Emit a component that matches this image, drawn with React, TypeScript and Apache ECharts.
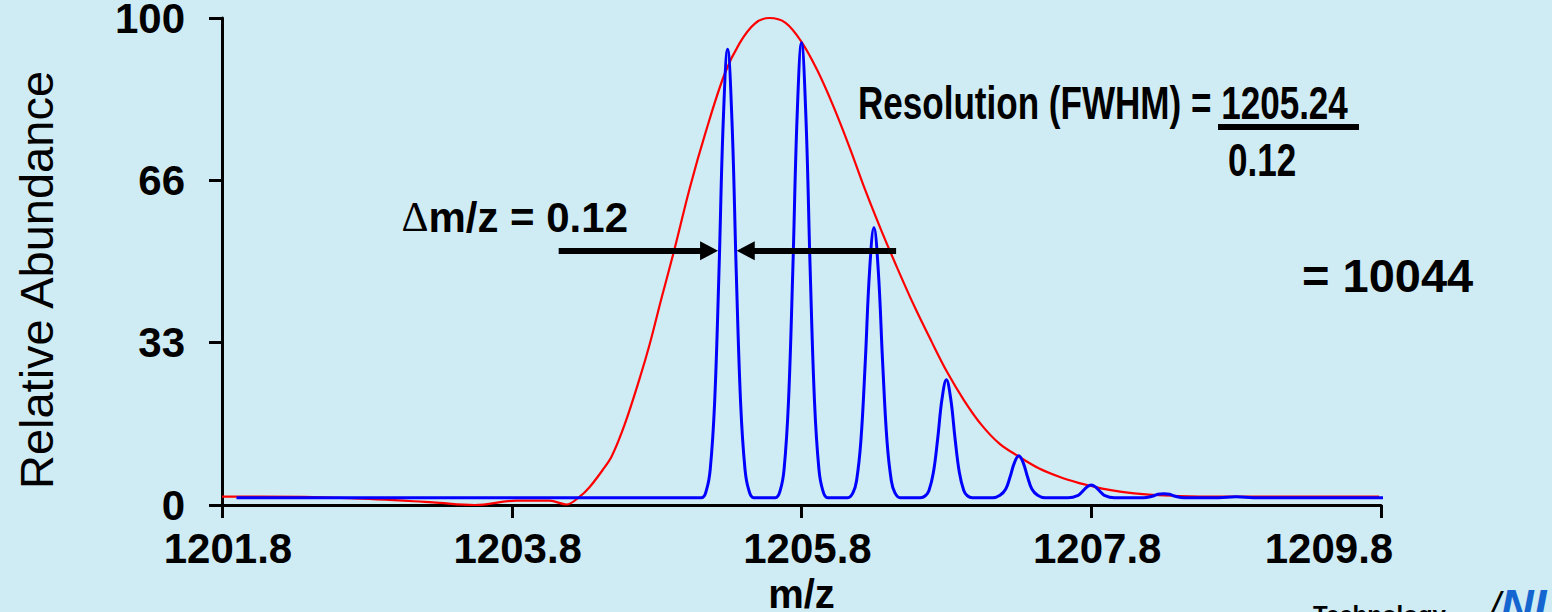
import React, { useEffect, useRef } from "react";
import * as echarts from "echarts";

const BG = "#CFEBF4";
const FONT = "'Liberation Sans', Arial, Helvetica, sans-serif";

// x-axis tick values (m/z) and y-axis tick values (relative abundance)
const xTicks = [1201.8, 1203.8, 1205.8, 1207.8, 1209.8];
const yTicks = [0, 33.333, 66.667, 100];

// Blue trace: resolved isotope peaks (m/z, abundance)
const blueMz = [
  1201.9, 1203.8,
  1205.11, 1205.145, 1205.17, 1205.2, 1205.23, 1205.26, 1205.29, 1205.32, 1205.35, 1205.38, 1205.41, 1205.435, 1205.47,
  1205.62, 1205.655, 1205.68, 1205.71, 1205.74, 1205.77, 1205.8, 1205.83, 1205.86, 1205.89, 1205.92, 1205.945, 1205.98,
  1206.12, 1206.155, 1206.18, 1206.21, 1206.24, 1206.27, 1206.3, 1206.33, 1206.36, 1206.39, 1206.42, 1206.445, 1206.48,
  1206.62, 1206.655, 1206.68, 1206.71, 1206.74, 1206.77, 1206.8, 1206.83, 1206.86, 1206.89, 1206.92, 1206.945, 1206.98,
  1207.12, 1207.17, 1207.21, 1207.24, 1207.27, 1207.3, 1207.33, 1207.36, 1207.39, 1207.43, 1207.48,
  1207.64, 1207.71, 1207.74, 1207.77, 1207.8, 1207.83, 1207.86, 1207.89, 1207.96,
  1208.16, 1208.22, 1208.26, 1208.3, 1208.34, 1208.38, 1208.44,
  1208.68, 1208.8, 1208.92,
  1209.89,
];
const blueAbundance = [
  1.5, 1.5,
  1.5, 3.2, 7.3, 20.8, 47.5, 78.9, 93.6, 78.9, 47.5, 20.8, 7.3, 3.2, 1.5,
  1.5, 3.2, 7.4, 21.1, 48.2, 80.0, 94.9, 80.0, 48.2, 21.1, 7.4, 3.2, 1.5,
  1.5, 2.5, 5.0, 13.2, 29.3, 48.1, 57.0, 48.1, 29.3, 13.2, 5.0, 2.5, 1.5,
  1.5, 1.9, 3.0, 6.6, 13.6, 21.8, 25.7, 21.8, 13.6, 6.6, 3.0, 1.9, 1.5,
  1.5, 2.0, 3.3, 5.8, 8.7, 10.1, 8.7, 5.8, 3.3, 2.0, 1.5,
  1.5, 2.0, 2.8, 3.7, 4.1, 3.7, 2.8, 2.0, 1.5,
  1.5, 1.8, 2.2, 2.3, 2.2, 1.8, 1.5,
  1.5, 1.7, 1.5,
  1.5,
];

// Red trace: unresolved envelope (m/z, abundance)
const redMz = [
  1201.8, 1202.05, 1202.68, 1203.255, 1203.545, 1203.832, 1204.062, 1204.177,
  1204.269, 1204.338, 1204.428, 1204.49, 1204.579, 1204.683, 1204.752, 1204.834,
  1204.924, 1205.028, 1205.138, 1205.269, 1205.372, 1205.476, 1205.579,
  1205.69, 1205.8, 1205.91, 1206.021, 1206.131, 1206.241, 1206.352, 1206.462,
  1206.579, 1206.697, 1206.807, 1206.924, 1207.041, 1207.166, 1207.297, 1207.441,
  1207.579, 1207.717, 1207.8, 1207.924, 1208.097, 1208.303, 1208.545, 1208.89, 1209.786,
];
const redAbundance = [
  1.7, 1.7, 1.4, 0.55, 0.0, 0.9, 0.9, 0.1,
  1.7, 3.7, 7.2, 10, 16.5, 26, 33, 42.5,
  52.6, 65, 76.5, 88.5, 94.8, 98.8, 100,
  99.0, 95.1, 89.2, 81.8, 73.5, 64.6, 56.3, 48.6,
  40.8, 33.6, 27.2, 21.4, 16.5, 12.6, 10.0, 7.5,
  5.8, 4.5, 3.9, 3.1, 2.4, 1.95, 1.75, 1.7, 1.7,
];

// FWHM arrow annotation (m/z positions at half height)
const fwhmLevel = 52.2;
const leftArrow = [1204.124, 1205.162];
const rightArrow = [1206.453, 1205.415];

export default function App() {
  const ref = useRef<HTMLDivElement>(null);

  useEffect(() => {
    document.body.style.margin = "0";
    document.body.style.background = BG;
    const chart = echarts.init(ref.current as HTMLDivElement, null, {
      renderer: "svg",
      width: 1552,
      height: 612,
    });

    const blueData = blueMz.map((m, i) => [m, blueAbundance[i]]);
    const redData = redMz.map((m, i) => [m, redAbundance[i]]);
    const lastTick = xTicks[xTicks.length - 1];

    const boldText = (
      text: string,
      x: number,
      y: number,
      size: number,
      scaleX = 1,
      color = "#000"
    ) => ({
      type: "text",
      x,
      y,
      scaleX,
      silent: true,
      style: {
        text,
        fill: color,
        font: `bold ${size}px ${FONT}`,
        align: "left",
        verticalAlign: "middle",
        textAlign: "left",
        textVerticalAlign: "middle",
      },
    });

    chart.setOption({
      animation: false,
      backgroundColor: BG,
      grid: {
        left: 222,
        right: 171,
        top: 18,
        bottom: 107,
        containLabel: false,
        outerBoundsMode: "none",
      },
      xAxis: {
        type: "value",
        min: 1201.8,
        max: 1209.8,
        splitLine: { show: false },
        axisLine: { show: true, lineStyle: { color: "#000", width: 3 } },
        axisTick: {
          show: true,
          length: 13,
          customValues: xTicks,
          lineStyle: { color: "#000", width: 3 },
        },
        axisLabel: {
          customValues: xTicks,
          formatter: (v: number) =>
            Math.abs(v - lastTick) < 1e-6 ? `{m|${v.toFixed(1)}}` : v.toFixed(1),
          color: "#000",
          fontSize: 42,
          fontWeight: "bold",
          fontFamily: FONT,
          margin: 22,
          padding: [0, 0, 0, 12],
          rich: {
            m: {
              color: "#000",
              fontSize: 42,
              fontWeight: "bold",
              fontFamily: FONT,
              padding: [0, 116, 0, 0],
            },
          },
        },
        name: "m/z",
        nameLocation: "middle",
        nameGap: 66,
        nameTextStyle: {
          color: "#000",
          fontSize: 40,
          fontWeight: "bold",
          fontFamily: FONT,
        },
      },
      yAxis: {
        type: "value",
        min: 0,
        max: 100,
        splitLine: { show: false },
        axisLine: { show: true, lineStyle: { color: "#000", width: 3 } },
        axisTick: {
          show: true,
          length: 13,
          customValues: yTicks,
          lineStyle: { color: "#000", width: 3 },
        },
        axisLabel: {
          customValues: yTicks,
          formatter: (v: number) => String(Math.floor(v)),
          color: "#000",
          fontSize: 42,
          fontWeight: "bold",
          fontFamily: FONT,
          margin: 37,
          padding: [18, 0, 0, 0],
        },
      },
      series: [
        {
          type: "line",
          name: "envelope",
          data: redData,
          smooth: 0.35,
          symbol: "none",
          clip: false,
          z: 2,
          lineStyle: { color: "#FF0000", width: 2.2 },
        },
        {
          type: "line",
          name: "resolved",
          data: blueData,
          smooth: 0.4,
          symbol: "none",
          clip: false,
          z: 3,
          lineStyle: { color: "#0000FF", width: 3 },
          markLine: {
            silent: true,
            animation: false,
            symbol: ["none", "triangle"],
            symbolSize: [19, 18],
            label: { show: false },
            itemStyle: { color: "#000" },
            lineStyle: { color: "#000", width: 6, type: "solid" },
            emphasis: { disabled: true },
            data: [
              [{ coord: [leftArrow[0], fwhmLevel] }, { coord: [leftArrow[1], fwhmLevel] }],
              [{ coord: [rightArrow[0], fwhmLevel] }, { coord: [rightArrow[1], fwhmLevel] }],
            ],
          },
        },
      ],
      graphic: [
        {
          type: "text",
          x: 36,
          y: 280,
          rotation: Math.PI / 2,
          silent: true,
          style: {
            text: "Relative Abundance",
            fill: "#000",
            font: `47px ${FONT}`,
            align: "center",
            verticalAlign: "middle",
            textAlign: "center",
            textVerticalAlign: "middle",
          },
        },
        {
          type: "text",
          x: 628,
          y: 217,
          silent: true,
          style: {
            text: "{d|Δ}{b|m/z = 0.12}",
            align: "right",
            verticalAlign: "middle",
            textAlign: "right",
            textVerticalAlign: "middle",
            rich: {
              d: { font: `42px 'Liberation Serif', 'Times New Roman', serif`, fill: "#000" },
              b: { font: `bold 42px ${FONT}`, fill: "#000" },
            },
          },
        },
        boldText("Resolution (FWHM) = 1205.24", 858, 103, 47, 0.746),
        {
          type: "rect",
          silent: true,
          shape: { x: 1218, y: 124, width: 141, height: 6 },
          style: { fill: "#000" },
        },
        boldText("0.12", 1228, 160, 47, 0.746),
        boldText("= 10044", 1302, 275, 47),
        boldText("Technology", 1313, 614, 24),
        {
          type: "text",
          x: 1490,
          y: 606,
          silent: true,
          style: {
            text: "{s|/}{n|NI}",
            align: "left",
            verticalAlign: "middle",
            textAlign: "left",
            textVerticalAlign: "middle",
            rich: {
              s: { font: `italic 38px ${FONT}`, fill: "#000" },
              n: { font: `italic bold 46px ${FONT}`, fill: "#1565D0" },
            },
          },
        },
      ],
    });

    return () => chart.dispose();
  }, []);

  return <div ref={ref} style={{ width: 1552, height: 612 }} />;
}
